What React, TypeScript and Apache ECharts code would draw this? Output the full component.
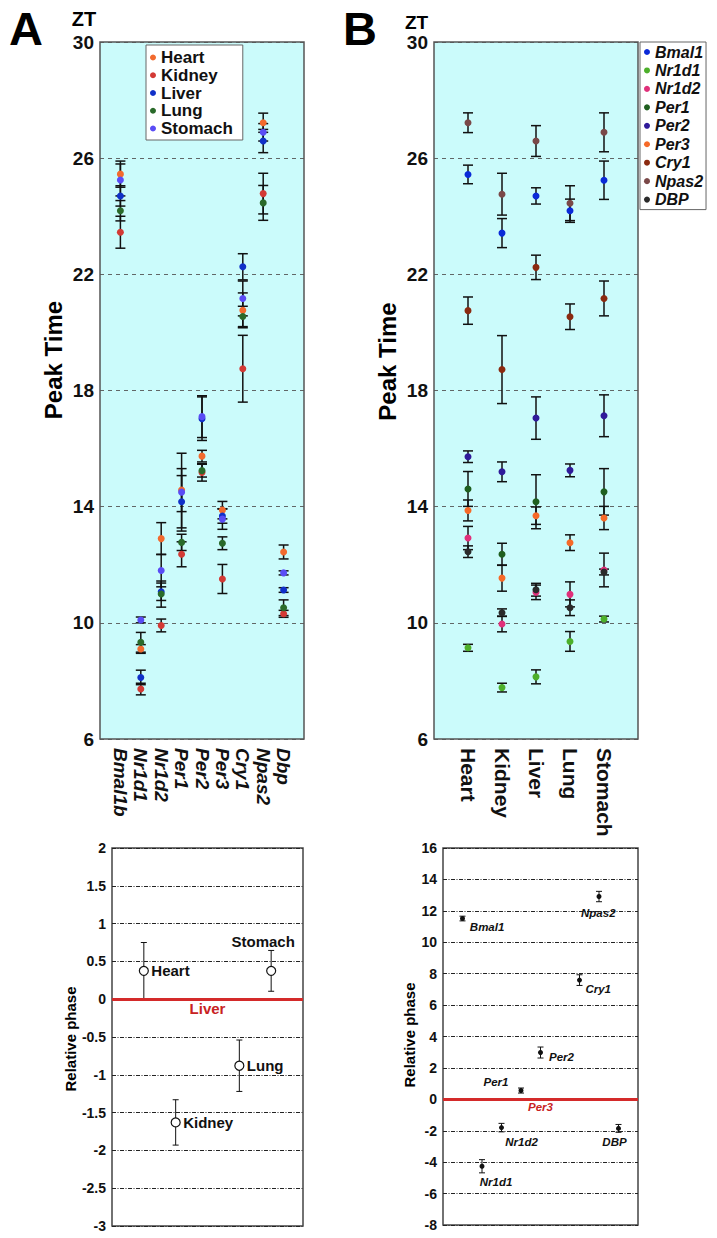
import React, { useEffect, useRef } from 'react';
import * as echarts from 'echarts';

const FONT = '"Liberation Sans", Arial, Helvetica, sans-serif';

// ---------- Panel A : peak time per gene, one series per tissue ----------
const genesA = ['Bmal1b', 'Nr1d1', 'Nr1d2', 'Per1', 'Per2', 'Per3', 'Cry1', 'Npas2', 'Dbp'];
const tissuesA = ['Heart', 'Kidney', 'Liver', 'Lung', 'Stomach'];
const heartA = [25.45, 9.1, 12.9, 14.57, 15.74, 13.88, 20.76, 27.22, 12.44];
const heartErrA = [0.45, 0.15, 0.55, 0.74, 0.2, 0.3, 0.6, 0.33, 0.24];
const kidneyA = [23.45, 7.72, 9.91, 12.36, 15.18, 11.51, 18.75, 24.78, 10.31];
const kidneyErrA = [0.55, 0.2, 0.22, 0.43, 0.3, 0.5, 1.15, 0.7, 0.12];
const liverA = [24.7, 8.12, 11.07, 14.17, 17.03, 13.68, 22.26, 26.59, 11.13];
const liverErrA = [0.35, 0.25, 0.3, 0.9, 0.75, 0.25, 0.45, 0.4, 0.08];
const lungA = [24.19, 9.33, 10.99, 12.77, 15.24, 12.74, 20.55, 24.46, 10.52];
const lungErrA = [0.35, 0.34, 0.45, 0.28, 0.22, 0.22, 0.35, 0.6, 0.27];
const stomachA = [25.25, 10.1, 11.8, 14.5, 17.1, 13.57, 21.17, 26.89, 11.72];
const stomachErrA = [0.55, 0.1, 0.56, 1.34, 0.72, 0.35, 0.6, 0.3, 0.07];
const colorsA = ['#f26a2e', '#d33a35', '#1030c8', '#2a6a2a', '#5a4cf5'];

// ---------- Panel B : peak time per tissue, one series per gene ----------
const tissuesB = ['Heart', 'Kidney', 'Liver', 'Lung', 'Stomach'];
const genesB = ['Bmal1', 'Nr1d1', 'Nr1d2', 'Per1', 'Per2', 'Per3', 'Cry1', 'Npas2', 'DBP'];
const bmal1B = [25.44, 23.42, 24.7, 24.19, 25.24];
const bmal1ErrB = [0.32, 0.5, 0.28, 0.4, 0.66];
const nr1d1B = [9.14, 7.77, 8.14, 9.36, 10.13];
const nr1d1ErrB = [0.12, 0.15, 0.24, 0.34, 0.1];
const nr1d2B = [12.92, 9.96, 11.05, 10.98, 11.82];
const nr1d2ErrB = [0.4, 0.27, 0.25, 0.43, 0.58];
const per1B = [14.61, 12.36, 14.17, null, 14.51];
const per1ErrB = [0.6, 0.38, 0.93, null, 0.8];
const per2B = [15.72, 15.2, 17.05, 15.25, 17.13];
const per2ErrB = [0.2, 0.34, 0.73, 0.22, 0.72];
const per3B = [13.87, 11.54, 13.69, 12.76, 13.61];
const per3ErrB = [0.36, 0.45, 0.3, 0.27, 0.4];
const cry1B = [20.75, 18.72, 22.24, 20.54, 21.17];
const cry1ErrB = [0.47, 1.17, 0.42, 0.44, 0.6];
const npas2B = [27.22, 24.76, 26.59, 24.45, 26.89];
const npas2ErrB = [0.34, 0.72, 0.53, 0.6, 0.67];
const dbpB = [12.45, 10.35, 11.14, 10.52, 11.75];
const dbpErrB = [0.2, 0.13, 0.22, 0.27, 0.1];
const colorsB = ['#0a2ad8', '#4caf2a', '#e0307a', '#1f5f1f', '#2f1a9a', '#f66a28', '#8b2a10', '#7a4848', '#2a2a2a'];

// ---------- Bottom left : relative phase of tissues vs Liver ----------
const relTissues = ['Heart', 'Kidney', 'Liver', 'Lung', 'Stomach'];
const relTissuePhase = [0.375, -1.63, null, -0.88, 0.375];
const relTissueErr = [0.375, 0.3, null, 0.34, 0.27];
const relTissueRef = 'Liver';

// ---------- Bottom right : relative phase of genes vs Per3 ----------
const relGenes = ['Bmal1', 'Nr1d1', 'Nr1d2', 'Per1', 'Per2', 'Per3', 'Cry1', 'Npas2', 'DBP'];
const relGenePhase = [11.51, -4.26, -1.8, 0.56, 2.98, null, 7.59, 12.91, -1.85];
const relGeneErr = [0.15, 0.42, 0.27, 0.16, 0.35, null, 0.34, 0.33, 0.25];
const relGeneRef = 'Per3';

// label placement (style only)
const tissueLabelPlace: Record<string, any> = {
  Heart: { align: 'left', offset: [7.5, 0] },
  Kidney: { align: 'left', offset: [7.5, 0] },
  Lung: { align: 'left', offset: [7.5, 0] },
  Stomach: { align: 'center', offset: [-8, -29] },
};
const geneLabelPlace: Record<string, number[]> = {
  Bmal1: [24.6, 8.6],
  Nr1d1: [14, 16],
  Nr1d2: [20, 14.4],
  Per1: [-25, -8.3],
  Per2: [21, 4],
  Cry1: [18.7, 9.3],
  Npas2: [-0.7, 16],
  DBP: [-4, 13.7],
};

function errSeries(name: string, xi: number, data: any[], capHalf: number, lw: number) {
  return {
    type: 'custom',
    name,
    xAxisIndex: xi,
    yAxisIndex: xi,
    silent: true,
    z: 2,
    data,
    encode: { x: 0, y: [1, 2] },
    renderItem: (params: any, api: any) => {
      const x = api.value(0);
      const a = api.coord([x, api.value(1)]);
      const b = api.coord([x, api.value(2)]);
      const st = { stroke: '#111', lineWidth: lw };
      return {
        type: 'group',
        children: [
          { type: 'line', shape: { x1: a[0], y1: a[1], x2: b[0], y2: b[1] }, style: st },
          { type: 'line', shape: { x1: a[0] - capHalf, y1: a[1], x2: a[0] + capHalf, y2: a[1] }, style: st },
          { type: 'line', shape: { x1: b[0] - capHalf, y1: b[1], x2: b[0] + capHalf, y2: b[1] }, style: st },
        ],
      };
    },
  };
}

export default function App() {
  const ref = useRef<HTMLDivElement>(null);
  useEffect(() => {
    if (!ref.current) return;
    const chart = echarts.init(ref.current, undefined, { renderer: 'svg' });

    const series: any[] = [];

    // Panel A
    const valsA = [heartA, kidneyA, liverA, lungA, stomachA];
    const errsA = [heartErrA, kidneyErrA, liverErrA, lungErrA, stomachErrA];
    tissuesA.forEach((t, k) => {
      series.push(
        errSeries('errA-' + t, 0, valsA[k].map((v, i) => [i, v - errsA[k][i], v + errsA[k][i]]), 5, 1.5)
      );
    });
    tissuesA.forEach((t, k) => {
      series.push({
        type: 'scatter',
        name: t,
        xAxisIndex: 0,
        yAxisIndex: 0,
        z: 3,
        symbol: 'circle',
        symbolSize: 7,
        itemStyle: { color: colorsA[k], opacity: 1 },
        data: valsA[k].map((v, i) => [i, v]),
      });
    });

    // Panel B
    const valsB = [bmal1B, nr1d1B, nr1d2B, per1B, per2B, per3B, cry1B, npas2B, dbpB];
    const errsB = [bmal1ErrB, nr1d1ErrB, nr1d2ErrB, per1ErrB, per2ErrB, per3ErrB, cry1ErrB, npas2ErrB, dbpErrB];
    genesB.forEach((g, k) => {
      const d: any[] = [];
      valsB[k].forEach((v, i) => {
        if (v != null) d.push([i, v - (errsB[k][i] as number), v + (errsB[k][i] as number)]);
      });
      series.push(errSeries('errB-' + g, 1, d, 5, 1.5));
    });
    genesB.forEach((g, k) => {
      const d: any[] = [];
      valsB[k].forEach((v, i) => {
        if (v != null) d.push([i, v]);
      });
      series.push({
        type: 'scatter',
        name: g,
        xAxisIndex: 1,
        yAxisIndex: 1,
        z: 3,
        symbol: 'circle',
        symbolSize: 7,
        itemStyle: { color: colorsB[k], opacity: 1 },
        data: d,
      });
    });

    // Bottom left
    const tErr: any[] = [];
    const tPts: any[] = [];
    relTissues.forEach((t, i) => {
      const v = relTissuePhase[i];
      if (v == null) return;
      const e = relTissueErr[i] as number;
      tErr.push([i, v - e, v + e]);
      const pl = tissueLabelPlace[t];
      tPts.push({
        value: [i, v],
        name: t,
        label: {
          show: true,
          position: 'inside',
          align: pl.align,
          verticalAlign: 'middle',
          offset: pl.offset,
          formatter: '{b}',
          color: '#111',
          fontWeight: 'bold',
          fontSize: 15,
          fontFamily: FONT,
        },
      });
    });
    series.push(errSeries('errC', 2, tErr, 3, 1));
    series.push({
      type: 'scatter',
      name: 'relTissue',
      xAxisIndex: 2,
      yAxisIndex: 2,
      z: 4,
      symbol: 'circle',
      symbolSize: 9,
      itemStyle: { color: '#fff', borderColor: '#111', borderWidth: 1.2, opacity: 1 },
      data: tPts,
      markLine: {
        silent: true,
        symbol: ['none', 'none'],
        data: [{ yAxis: 0 }],
        lineStyle: { color: '#d42a2a', width: 3, type: 'solid' },
        label: {
          show: true,
          formatter: relTissueRef,
          position: 'insideMiddleBottom',
          distance: 2,
          color: '#c82222',
          fontWeight: 'bold',
          fontSize: 15,
          fontFamily: FONT,
        },
      },
    });

    // Bottom right
    const gErr: any[] = [];
    const gPts: any[] = [];
    relGenes.forEach((g, i) => {
      const v = relGenePhase[i];
      if (v == null) return;
      const e = relGeneErr[i] as number;
      gErr.push([i, v - e, v + e]);
      gPts.push({
        value: [i, v],
        name: g,
        label: {
          show: true,
          position: 'inside',
          align: 'center',
          verticalAlign: 'middle',
          offset: geneLabelPlace[g],
          formatter: '{b}',
          color: '#111',
          fontWeight: 'bold',
          fontStyle: 'italic',
          fontSize: 11.5,
          fontFamily: FONT,
        },
      });
    });
    series.push(errSeries('errD', 3, gErr, 3, 1));
    series.push({
      type: 'scatter',
      name: 'relGene',
      xAxisIndex: 3,
      yAxisIndex: 3,
      z: 4,
      symbol: 'circle',
      symbolSize: 5,
      itemStyle: { color: '#111', opacity: 1 },
      data: gPts,
      markLine: {
        silent: true,
        symbol: ['none', 'none'],
        data: [{ yAxis: 0 }],
        lineStyle: { color: '#d42a2a', width: 3, type: 'solid' },
        label: {
          show: true,
          formatter: relGeneRef,
          position: 'insideMiddleBottom',
          distance: 2,
          color: '#c82222',
          fontWeight: 'bold',
          fontStyle: 'italic',
          fontSize: 11.5,
          fontFamily: FONT,
        },
      },
    });

    const topY = (gi: number) => ({
      type: 'value',
      gridIndex: gi,
      min: 6,
      max: 30,
      interval: 4,
      axisLine: { show: false },
      axisTick: { show: false },
      axisLabel: { fontSize: 19, fontWeight: 'bold', color: '#111', margin: 6, fontFamily: FONT },
      splitLine: { show: true, lineStyle: { type: [4, 4], color: '#555', width: 0.9 } },
    });
    const topX = (gi: number, names: string[], italic: boolean, size: number) => ({
      type: 'value',
      gridIndex: gi,
      min: -1,
      max: names.length,
      interval: 1,
      axisLine: { show: false },
      axisTick: { show: false },
      splitLine: { show: false },
      axisLabel: {
        rotate: -90,
        margin: 9,
        fontSize: size,
        fontWeight: 'bold',
        fontStyle: italic ? 'italic' : 'normal',
        color: '#111',
        fontFamily: FONT,
        formatter: (v: number) => names[Math.round(v)] ?? '',
      },
    });
    const dashDot = { type: [4, 1.5, 1, 1.5], color: '#222', width: 1 };
    const botY = (gi: number, min: number, max: number, interval: number) => ({
      type: 'value',
      gridIndex: gi,
      min,
      max,
      interval,
      axisLine: { show: false },
      axisTick: { show: false },
      axisLabel: { fontSize: 14, fontWeight: 'bold', color: '#111', margin: 6, fontFamily: FONT },
      splitLine: { show: true, lineStyle: dashDot },
    });
    const botX = (gi: number, n: number) => ({
      type: 'value',
      gridIndex: gi,
      min: -1,
      max: n,
      show: false,
      splitLine: { show: false },
    });

    const txt = (text: string, x: number, y: number, size: number, rot = 0, extra: any = {}) => ({
      type: 'text',
      x,
      y,
      rotation: rot,
      silent: true,
      style: {
        text,
        fontSize: size,
        fontWeight: 'bold',
        fontFamily: FONT,
        fill: '#000',
        align: 'center',
        verticalAlign: 'middle',
        textAlign: 'center',
        textVerticalAlign: 'middle',
        ...extra,
      },
    });

    const option: any = {
      animation: false,
      backgroundColor: '#fff',
      grid: [
        { left: 100, top: 42, width: 204, height: 697, show: true, backgroundColor: '#cbfbfb', borderColor: '#555', borderWidth: 1.5 },
        { left: 434, top: 42, width: 204, height: 697, show: true, backgroundColor: '#cbfbfb', borderColor: '#555', borderWidth: 1.5 },
        { left: 112, top: 848, width: 191, height: 378, show: true, backgroundColor: '#fff', borderColor: '#444', borderWidth: 1.5 },
        { left: 443, top: 848, width: 195, height: 377, show: true, backgroundColor: '#fff', borderColor: '#444', borderWidth: 1.5 },
      ],
      xAxis: [topX(0, genesA, true, 19), topX(1, tissuesB, false, 21), botX(2, relTissues.length), botX(3, relGenes.length)],
      yAxis: [topY(0), topY(1), botY(2, -3, 2, 0.5), botY(3, -8, 16, 2)],
      legend: [
        {
          data: tissuesA,
          orient: 'vertical',
          left: 146,
          top: 45,
          icon: 'circle',
          itemWidth: 6,
          itemHeight: 6,
          itemGap: 0.75,
          padding: [4, 10, 3, 4],
          backgroundColor: '#fff',
          borderColor: '#666',
          borderWidth: 1,
          selectedMode: false,
          textStyle: { fontSize: 17, fontWeight: 'bold', color: '#111', fontFamily: FONT, lineHeight: 17 },
        },
        {
          data: genesB,
          orient: 'vertical',
          left: 640,
          top: 42,
          icon: 'circle',
          itemWidth: 6,
          itemHeight: 6,
          itemGap: 0.45,
          padding: [1, 3, 1, 4],
          backgroundColor: '#fff',
          borderColor: '#666',
          borderWidth: 1,
          selectedMode: false,
          textStyle: { fontSize: 16, fontWeight: 'bold', fontStyle: 'italic', color: '#111', fontFamily: FONT, lineHeight: 18 },
        },
      ],
      graphic: [
        txt('A', 26, 28, 47),
        txt('B', 360, 28, 47),
        txt('ZT', 84, 19, 20),
        txt('ZT', 416.5, 22.5, 19),
        txt('Peak Time', 53.5, 360, 24, Math.PI / 2),
        txt('Peak Time', 387.5, 361.5, 24, Math.PI / 2),
        txt('Relative phase', 70, 1039, 15, Math.PI / 2),
        txt('Relative phase', 409, 1035, 15, Math.PI / 2),
      ],
      series,
    };
    chart.setOption(option);
    return () => chart.dispose();
  }, []);
  return <div ref={ref} style={{ position: 'absolute', left: 0, top: 0, width: 717, height: 1238 }} />;
}
